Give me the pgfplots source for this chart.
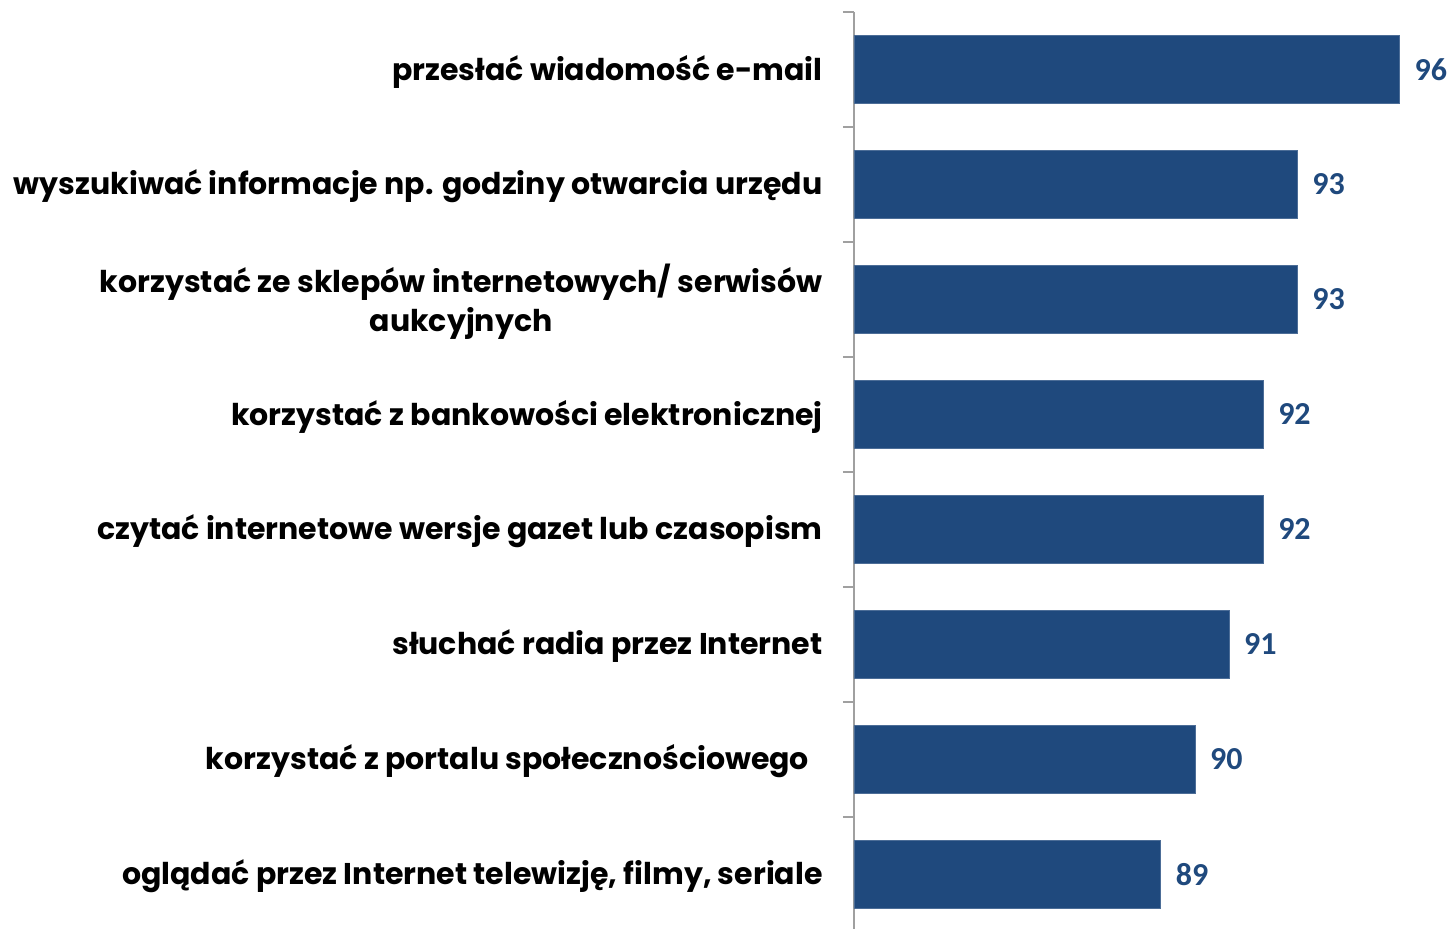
\documentclass[border=0pt]{standalone}
\usepackage{pgfplots}
\pgfplotsset{compat=1.18}
\usepackage{fontspec}
\setmainfont{Poppins}
\newfontfamily\valfont{Carlito}
\definecolor{barblue}{RGB}{31,73,125}
\definecolor{axgray}{RGB}{160,160,160}
\begin{document}
\begin{tikzpicture}
\useasboundingbox (-427pt,1.5pt) rectangle (300pt,466pt);
\begin{axis}[
  scale only axis,
  width=341pt, height=460pt,
  xbar, bar width=34pt,
  xmin=80, xmax=100,
  ymin=-0.5, ymax=7.5, y dir=reverse,
  axis y line*=left, axis x line=none,
  axis line style={-, draw=axgray, line width=1pt},
  ytick={0,...,7},
  major tick length=0pt,
  minor ytick={-0.5,0.5,...,7.5},
  minor tick length=5.5pt,
  tick align=outside,
  minor tick style={draw=axgray, line width=1pt},
  /pgf/number format/assume math mode=true,
  yticklabels={
    {przesłać wiadomość e-mail},
    {wyszukiwać informacje np. godziny otwarcia urzędu},
    {korzystać ze sklepów internetowych/ serwisów\\aukcyjnych},
    {korzystać z bankowości elektronicznej},
    {czytać internetowe wersje gazet lub czasopism},
    {słuchać radia przez Internet},
    {korzystać z portalu społecznościowego\hspace{0.45em}},
    {oglądać przez Internet telewizję, filmy, seriale}},
  yticklabel style={font=\fontsize{15}{19.5}\selectfont\bfseries, align=center, inner sep=0pt, xshift=-15.5pt, anchor=east, yshift=-1pt},
  nodes near coords,
  every node near coord/.append style={font=\fontsize{16}{18}\selectfont\valfont\bfseries, color=barblue, anchor=west, xshift=4pt},
]
\addplot[fill=barblue, draw=barblue!80!white] coordinates {
  (96,0) (93,1) (93,2) (92,3) (92,4) (91,5) (90,6) (89,7)};
\end{axis}
\end{tikzpicture}
\end{document}
